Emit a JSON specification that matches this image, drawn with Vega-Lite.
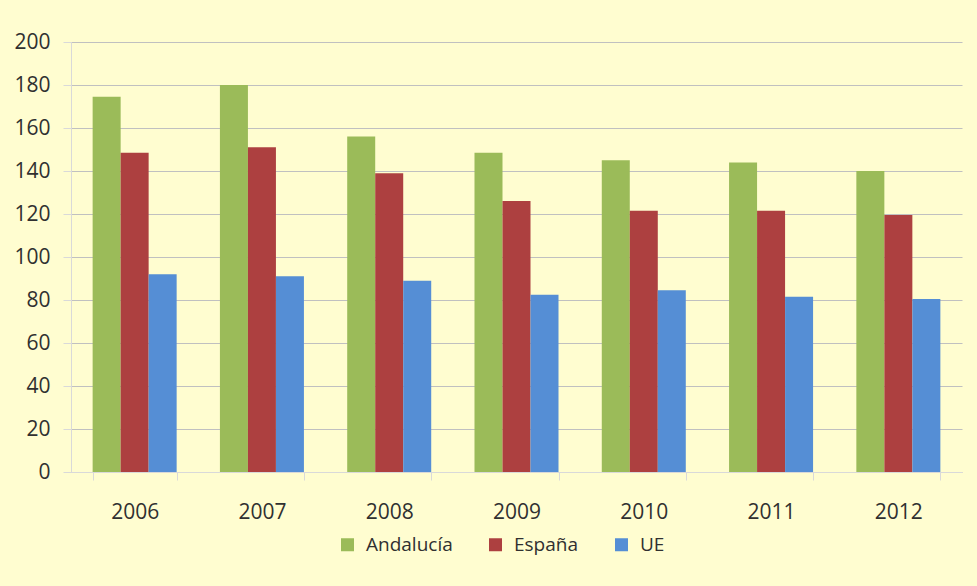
{
  "$schema": "https://vega.github.io/schema/vega-lite/v6.json",
  "width": 891,
  "height": 430,
  "autosize": {"type": "none"},
  "padding": {"left": 71, "top": 42, "right": 15, "bottom": 114},
  "background": "#FFFDD0",
  "config": {
    "view": {"stroke": null},
    "font": "Open Sans"
  },
  "data": {
    "values": [
      {"year": "2006", "region": "Andalucía", "value": 174.5},
      {"year": "2006", "region": "España", "value": 148.5},
      {"year": "2006", "region": "UE", "value": 92},
      {"year": "2007", "region": "Andalucía", "value": 180},
      {"year": "2007", "region": "España", "value": 151},
      {"year": "2007", "region": "UE", "value": 91},
      {"year": "2008", "region": "Andalucía", "value": 156},
      {"year": "2008", "region": "España", "value": 139},
      {"year": "2008", "region": "UE", "value": 89},
      {"year": "2009", "region": "Andalucía", "value": 148.5},
      {"year": "2009", "region": "España", "value": 126},
      {"year": "2009", "region": "UE", "value": 82.5},
      {"year": "2010", "region": "Andalucía", "value": 145},
      {"year": "2010", "region": "España", "value": 121.5},
      {"year": "2010", "region": "UE", "value": 84.5},
      {"year": "2011", "region": "Andalucía", "value": 144},
      {"year": "2011", "region": "España", "value": 121.5},
      {"year": "2011", "region": "UE", "value": 81.5},
      {"year": "2012", "region": "Andalucía", "value": 140},
      {"year": "2012", "region": "España", "value": 119.5},
      {"year": "2012", "region": "UE", "value": 80.5}
    ]
  },
  "mark": {"type": "bar"},
  "encoding": {
    "x": {
      "field": "year",
      "type": "nominal",
      "scale": {"paddingInner": 0.34, "paddingOuter": 0.17},
      "axis": {
        "title": null,
        "labelAngle": 0,
        "labelFontSize": 21,
        "labelColor": "#303030",
        "labelPadding": 21,
        "domainColor": "#D9D9D9",
        "tickColor": "#D9D9D9",
        "tickSize": 8,
        "tickBand": "extent",
        "grid": false
      }
    },
    "xOffset": {"field": "region", "type": "nominal", "scale": {"paddingInner": 0, "paddingOuter": 0}},
    "y": {
      "field": "value",
      "type": "quantitative",
      "scale": {"domain": [0, 200], "nice": false},
      "axis": {
        "title": null,
        "values": [0, 20, 40, 60, 80, 100, 120, 140, 160, 180, 200],
        "labelFontSize": 21,
        "labelColor": "#303030",
        "labelPadding": 13,
        "domainColor": "#D9D9D9",
        "tickColor": "#D9D9D9",
        "tickSize": 8,
        "gridColor": "#C0C0C0",
        "gridWidth": 1
      }
    },
    "color": {
      "field": "region",
      "type": "nominal",
      "scale": {"domain": ["Andalucía", "España", "UE"], "range": ["#9BBB59", "#AD4040", "#558ED5"]},
      "legend": {
        "title": null,
        "orient": "none",
        "direction": "horizontal",
        "legendX": 267,
        "legendY": 493,
        "symbolType": "square",
        "symbolSize": 169,
        "symbolStrokeWidth": 0,
        "labelFontSize": 19,
        "labelColor": "#303030",
        "labelOffset": 9,
        "columnPadding": 33
      }
    }
  }
}
